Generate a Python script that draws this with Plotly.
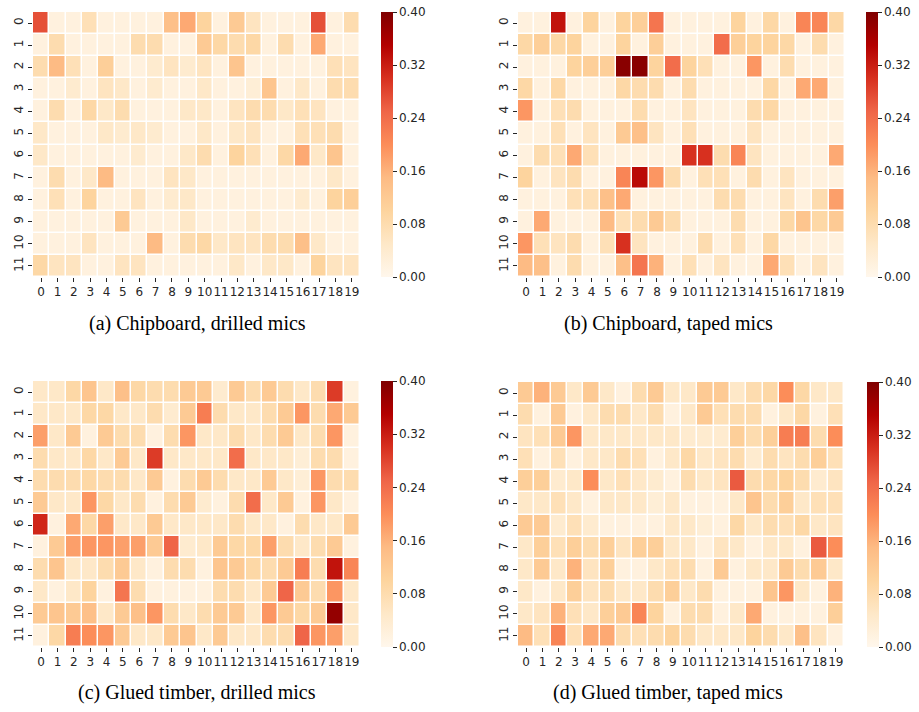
import plotly.graph_objects as go

ROWS = list(range(12))
COLS = list(range(20))
CBAR_TICKS = [0.0, 0.08, 0.16, 0.24, 0.32, 0.40]
CAPTIONS = ["(a) Chipboard, drilled mics", "(b) Chipboard, taped mics",
            "(c) Glued timber, drilled mics", "(d) Glued timber, taped mics"]

chip_drilled = [
    [0.27, 0.02, 0.02, 0.07, 0.02, 0.02, 0.02, 0.02, 0.14, 0.17, 0.10, 0.02, 0.12, 0.06, 0.02, 0.02, 0.02, 0.27, 0.02, 0.08],
    [0.02, 0.08, 0.02, 0.02, 0.02, 0.02, 0.08, 0.08, 0.02, 0.02, 0.12, 0.09, 0.08, 0.09, 0.02, 0.08, 0.02, 0.17, 0.02, 0.02],
    [0.08, 0.15, 0.07, 0.02, 0.11, 0.02, 0.02, 0.04, 0.06, 0.04, 0.06, 0.02, 0.13, 0.02, 0.02, 0.02, 0.02, 0.02, 0.07, 0.06],
    [0.02, 0.02, 0.04, 0.02, 0.06, 0.05, 0.02, 0.04, 0.02, 0.02, 0.05, 0.02, 0.02, 0.03, 0.13, 0.02, 0.05, 0.02, 0.08, 0.08],
    [0.02, 0.08, 0.02, 0.09, 0.05, 0.08, 0.02, 0.02, 0.02, 0.05, 0.05, 0.02, 0.06, 0.08, 0.08, 0.05, 0.07, 0.06, 0.02, 0.02],
    [0.05, 0.02, 0.02, 0.02, 0.05, 0.04, 0.05, 0.04, 0.02, 0.02, 0.05, 0.02, 0.05, 0.06, 0.02, 0.02, 0.07, 0.07, 0.08, 0.02],
    [0.05, 0.02, 0.02, 0.02, 0.02, 0.02, 0.04, 0.02, 0.02, 0.05, 0.08, 0.02, 0.10, 0.07, 0.02, 0.09, 0.17, 0.05, 0.13, 0.02],
    [0.02, 0.08, 0.02, 0.05, 0.15, 0.02, 0.02, 0.02, 0.06, 0.05, 0.02, 0.02, 0.02, 0.02, 0.02, 0.02, 0.02, 0.02, 0.05, 0.02],
    [0.02, 0.07, 0.02, 0.10, 0.02, 0.02, 0.06, 0.02, 0.04, 0.05, 0.02, 0.02, 0.02, 0.02, 0.02, 0.02, 0.04, 0.02, 0.10, 0.11],
    [0.02, 0.02, 0.02, 0.02, 0.02, 0.12, 0.02, 0.02, 0.02, 0.05, 0.02, 0.02, 0.02, 0.04, 0.02, 0.02, 0.02, 0.02, 0.02, 0.02],
    [0.02, 0.02, 0.02, 0.06, 0.02, 0.02, 0.02, 0.15, 0.02, 0.08, 0.09, 0.05, 0.06, 0.06, 0.08, 0.08, 0.14, 0.05, 0.02, 0.02],
    [0.09, 0.06, 0.06, 0.02, 0.02, 0.06, 0.06, 0.02, 0.02, 0.02, 0.02, 0.02, 0.05, 0.02, 0.05, 0.05, 0.02, 0.10, 0.06, 0.06],
]

chip_taped = [
    [0.02, 0.02, 0.33, 0.02, 0.10, 0.02, 0.10, 0.11, 0.23, 0.02, 0.02, 0.02, 0.02, 0.10, 0.02, 0.09, 0.02, 0.21, 0.21, 0.09],
    [0.09, 0.11, 0.09, 0.10, 0.02, 0.02, 0.10, 0.02, 0.11, 0.02, 0.02, 0.02, 0.24, 0.11, 0.10, 0.10, 0.09, 0.02, 0.08, 0.02],
    [0.02, 0.02, 0.02, 0.10, 0.11, 0.11, 0.39, 0.39, 0.10, 0.24, 0.10, 0.07, 0.02, 0.02, 0.19, 0.02, 0.08, 0.02, 0.02, 0.02],
    [0.09, 0.02, 0.09, 0.02, 0.02, 0.02, 0.09, 0.08, 0.08, 0.02, 0.08, 0.02, 0.02, 0.02, 0.02, 0.09, 0.02, 0.17, 0.17, 0.02],
    [0.19, 0.02, 0.07, 0.08, 0.02, 0.02, 0.02, 0.08, 0.02, 0.02, 0.06, 0.02, 0.02, 0.02, 0.08, 0.09, 0.02, 0.02, 0.02, 0.02],
    [0.02, 0.02, 0.07, 0.02, 0.06, 0.02, 0.12, 0.14, 0.06, 0.02, 0.07, 0.02, 0.02, 0.02, 0.06, 0.02, 0.02, 0.02, 0.02, 0.02],
    [0.02, 0.08, 0.07, 0.17, 0.07, 0.02, 0.02, 0.02, 0.02, 0.02, 0.30, 0.30, 0.08, 0.21, 0.06, 0.02, 0.02, 0.02, 0.02, 0.17],
    [0.10, 0.02, 0.06, 0.08, 0.02, 0.02, 0.21, 0.34, 0.19, 0.08, 0.02, 0.07, 0.07, 0.02, 0.08, 0.02, 0.06, 0.02, 0.02, 0.02],
    [0.02, 0.02, 0.02, 0.07, 0.07, 0.14, 0.17, 0.02, 0.02, 0.02, 0.02, 0.02, 0.08, 0.08, 0.02, 0.02, 0.06, 0.02, 0.08, 0.18],
    [0.02, 0.17, 0.02, 0.02, 0.02, 0.15, 0.07, 0.08, 0.12, 0.08, 0.02, 0.02, 0.02, 0.08, 0.02, 0.02, 0.09, 0.13, 0.09, 0.12],
    [0.19, 0.07, 0.06, 0.08, 0.02, 0.07, 0.30, 0.06, 0.02, 0.02, 0.02, 0.08, 0.02, 0.07, 0.02, 0.09, 0.02, 0.02, 0.02, 0.02],
    [0.15, 0.14, 0.02, 0.08, 0.02, 0.02, 0.14, 0.23, 0.16, 0.02, 0.07, 0.02, 0.06, 0.02, 0.02, 0.17, 0.07, 0.02, 0.06, 0.02],
]

timber_drilled = [
    [0.05, 0.05, 0.09, 0.13, 0.05, 0.14, 0.09, 0.08, 0.08, 0.12, 0.12, 0.04, 0.12, 0.08, 0.12, 0.08, 0.05, 0.08, 0.29, 0.02],
    [0.05, 0.05, 0.05, 0.09, 0.09, 0.05, 0.05, 0.08, 0.04, 0.12, 0.22, 0.08, 0.05, 0.05, 0.08, 0.12, 0.19, 0.08, 0.17, 0.12],
    [0.18, 0.05, 0.12, 0.02, 0.12, 0.08, 0.08, 0.02, 0.08, 0.19, 0.05, 0.05, 0.08, 0.05, 0.08, 0.12, 0.05, 0.08, 0.19, 0.02],
    [0.08, 0.05, 0.05, 0.09, 0.05, 0.12, 0.05, 0.29, 0.05, 0.05, 0.05, 0.05, 0.24, 0.05, 0.05, 0.05, 0.03, 0.08, 0.08, 0.02],
    [0.08, 0.08, 0.08, 0.09, 0.08, 0.08, 0.05, 0.12, 0.02, 0.08, 0.12, 0.08, 0.05, 0.05, 0.12, 0.05, 0.03, 0.19, 0.08, 0.08],
    [0.12, 0.05, 0.05, 0.19, 0.09, 0.05, 0.08, 0.02, 0.08, 0.12, 0.04, 0.02, 0.08, 0.24, 0.05, 0.12, 0.02, 0.19, 0.05, 0.02],
    [0.31, 0.02, 0.17, 0.09, 0.18, 0.05, 0.05, 0.12, 0.05, 0.05, 0.05, 0.05, 0.08, 0.05, 0.05, 0.02, 0.08, 0.05, 0.05, 0.12],
    [0.02, 0.12, 0.18, 0.19, 0.19, 0.18, 0.18, 0.12, 0.25, 0.04, 0.05, 0.12, 0.09, 0.09, 0.18, 0.08, 0.05, 0.08, 0.12, 0.02],
    [0.08, 0.13, 0.05, 0.05, 0.08, 0.12, 0.05, 0.02, 0.08, 0.08, 0.02, 0.13, 0.12, 0.09, 0.08, 0.12, 0.22, 0.08, 0.33, 0.21],
    [0.05, 0.02, 0.05, 0.10, 0.02, 0.23, 0.08, 0.02, 0.02, 0.02, 0.02, 0.08, 0.08, 0.05, 0.12, 0.25, 0.12, 0.08, 0.19, 0.05],
    [0.12, 0.13, 0.12, 0.14, 0.05, 0.12, 0.14, 0.19, 0.08, 0.05, 0.08, 0.12, 0.12, 0.05, 0.19, 0.12, 0.09, 0.12, 0.38, 0.05],
    [0.02, 0.09, 0.22, 0.20, 0.19, 0.12, 0.05, 0.05, 0.12, 0.13, 0.05, 0.12, 0.05, 0.05, 0.08, 0.08, 0.25, 0.19, 0.18, 0.05],
]

timber_taped = [
    [0.12, 0.16, 0.12, 0.05, 0.12, 0.05, 0.02, 0.08, 0.12, 0.05, 0.05, 0.12, 0.12, 0.05, 0.08, 0.09, 0.20, 0.09, 0.05, 0.05],
    [0.08, 0.02, 0.12, 0.02, 0.05, 0.08, 0.08, 0.05, 0.08, 0.02, 0.05, 0.12, 0.07, 0.08, 0.08, 0.02, 0.05, 0.09, 0.02, 0.07],
    [0.06, 0.07, 0.12, 0.19, 0.05, 0.05, 0.05, 0.05, 0.05, 0.05, 0.04, 0.04, 0.04, 0.11, 0.08, 0.11, 0.22, 0.22, 0.08, 0.20],
    [0.07, 0.02, 0.07, 0.02, 0.05, 0.05, 0.08, 0.07, 0.02, 0.05, 0.09, 0.05, 0.06, 0.08, 0.04, 0.08, 0.06, 0.08, 0.11, 0.07],
    [0.11, 0.11, 0.04, 0.05, 0.20, 0.05, 0.07, 0.05, 0.04, 0.02, 0.08, 0.05, 0.06, 0.26, 0.08, 0.09, 0.10, 0.08, 0.04, 0.06],
    [0.05, 0.05, 0.07, 0.05, 0.02, 0.05, 0.05, 0.05, 0.03, 0.05, 0.02, 0.02, 0.02, 0.05, 0.13, 0.08, 0.11, 0.05, 0.07, 0.07],
    [0.12, 0.12, 0.04, 0.07, 0.04, 0.02, 0.02, 0.02, 0.02, 0.05, 0.05, 0.03, 0.02, 0.09, 0.05, 0.08, 0.07, 0.09, 0.05, 0.06],
    [0.05, 0.11, 0.07, 0.11, 0.08, 0.11, 0.06, 0.11, 0.11, 0.05, 0.05, 0.02, 0.06, 0.05, 0.02, 0.05, 0.05, 0.02, 0.26, 0.20],
    [0.05, 0.12, 0.05, 0.16, 0.06, 0.11, 0.02, 0.02, 0.05, 0.07, 0.08, 0.02, 0.12, 0.02, 0.05, 0.05, 0.12, 0.08, 0.12, 0.05],
    [0.05, 0.02, 0.05, 0.11, 0.06, 0.08, 0.05, 0.05, 0.08, 0.11, 0.05, 0.08, 0.02, 0.02, 0.02, 0.13, 0.19, 0.05, 0.02, 0.16],
    [0.05, 0.06, 0.16, 0.07, 0.05, 0.11, 0.12, 0.21, 0.10, 0.02, 0.08, 0.08, 0.02, 0.05, 0.17, 0.02, 0.02, 0.02, 0.02, 0.11],
    [0.15, 0.07, 0.21, 0.07, 0.17, 0.17, 0.08, 0.07, 0.08, 0.10, 0.08, 0.05, 0.05, 0.05, 0.10, 0.08, 0.05, 0.14, 0.06, 0.02],
]

PANELS = [chip_drilled, chip_taped, timber_drilled, timber_taped]

W, H = 919, 712
# pixel boxes: (left, right, top, bottom) of heatmap area; colorbar left
BOXES = [(33, 360, 12, 277), (518, 845, 12, 277), (33, 360, 381, 647), (518, 844, 382, 647)]
CBAR_X = [381, 866, 381, 867]
CAP_POS = [(197, 323), (668, 323), (197, 692), (668, 692)]

tick_font = dict(family="DejaVu Sans", size=12, color="#262626")

fig = go.Figure()
for i, (z, box) in enumerate(zip(PANELS, BOXES)):
    l, r, t, b = box
    xa = "x" if i == 0 else f"x{i+1}"
    ya = "y" if i == 0 else f"y{i+1}"
    fig.add_trace(go.Heatmap(
        z=z, x=COLS, y=ROWS, xaxis=xa, yaxis=ya,
        colorscale="OrRd", zmin=0, zmax=0.4,
        xgap=1.5, ygap=1.5, hoverongaps=False,
        colorbar=dict(
            x=CBAR_X[i] / W, xanchor="left", xpad=0, ypad=0,
            y=1 - (t + b) / 2 / H, yanchor="middle",
            len=(b - t), lenmode="pixels", thickness=12,
            outlinewidth=0, tickvals=CBAR_TICKS,
            ticktext=[f"{v:.2f}" for v in CBAR_TICKS],
            ticks="outside", ticklen=4, tickwidth=1, tickcolor="#262626",
            tickfont=tick_font,
        ),
    ))
    xkey = "xaxis" if i == 0 else f"xaxis{i+1}"
    ykey = "yaxis" if i == 0 else f"yaxis{i+1}"
    fig.update_layout({
        xkey: dict(domain=[l / W, r / W], anchor=ya, tickvals=COLS,
                   ticktext=[str(c) for c in COLS], ticks="outside", ticklen=4,
                   tickcolor="#262626", tickfont=tick_font, showgrid=False,
                   zeroline=False, showline=False, range=[-0.5, 19.5],
                   tickangle=0),
        ykey: dict(domain=[1 - b / H, 1 - t / H], anchor=xa, tickvals=ROWS,
                   ticktext=[str(rw) for rw in ROWS], ticks="outside", ticklen=4,
                   tickcolor="#262626", tickfont=tick_font, showgrid=False,
                   zeroline=False, showline=False, range=[11.5, -0.5],
                   tickangle=-90),
    })

for cap, (cx, cy) in zip(CAPTIONS, CAP_POS):
    fig.add_annotation(text=cap, x=cx / W, y=1 - cy / H, xref="paper", yref="paper",
                       showarrow=False, xanchor="center", yanchor="middle",
                       font=dict(family="Liberation Serif", size=20, color="#000000"))

fig.update_layout(width=W, height=H, margin=dict(l=0, r=0, t=0, b=0),
                  paper_bgcolor="white", plot_bgcolor="white", showlegend=False)

fig.write_html("out.html", config={"displayModeBar": False},
               post_script="document.body.style.margin='0px';document.body.style.overflow='hidden';")
